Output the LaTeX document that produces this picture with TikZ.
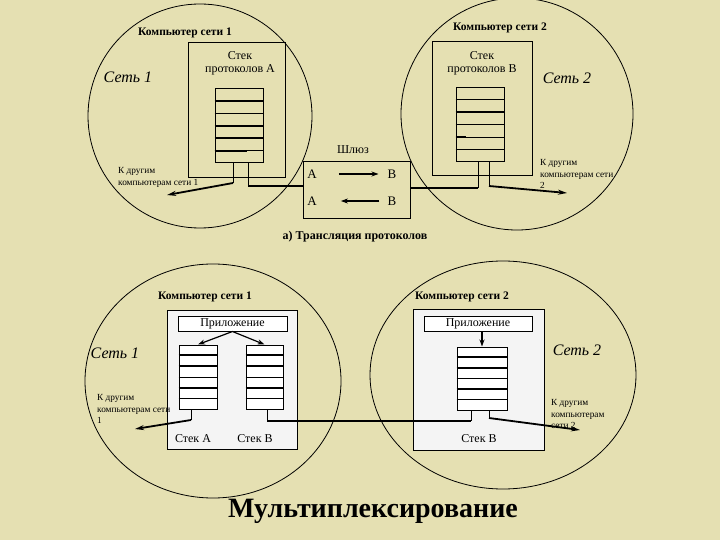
\documentclass[tikz,border=0pt]{standalone}
\usepackage{fontspec}
\setmainfont{Liberation Serif}
\usetikzlibrary{arrows.meta,calc,positioning}
\definecolor{paper}{RGB}{229,224,178}
\definecolor{panel}{RGB}{244,244,244}
\tikzset{
  net/.style={line width=0.8pt},
  compblk/.style={draw,rectangle,line width=1pt,inner sep=0pt},
  stackblk/.style={draw,rectangle,line width=1pt,fill=white,inner sep=0pt},
  appblk/.style={draw,rectangle,line width=1pt,fill=white,minimum height=15pt,inner sep=0pt,font=\fontsize{12}{12}\selectfont},
  wire/.style={line width=1pt},
  bus/.style={line width=2pt},
  arr/.style={-{Stealth[length=9pt,width=5pt]},line width=1.8pt},
  sarr/.style={-{Stealth[length=7pt,width=5pt]},line width=1.2pt},
  ttl/.style={font=\bfseries\fontsize{11.5}{13}\selectfont,inner sep=0pt},
  capt/.style={font=\bfseries\fontsize{12}{13}\selectfont,inner sep=0pt},
  netlbl/.style={font=\itshape\fontsize{16}{16}\selectfont,inner sep=0pt},
  small/.style={font=\fontsize{9.3}{11.5}\selectfont,align=left,inner sep=0pt},
  lbl/.style={font=\fontsize{12}{13}\selectfont,align=center,inner sep=0pt},
  glbl/.style={font=\fontsize{13}{13}\selectfont,inner sep=0pt}
}

\begin{document}
\begin{tikzpicture}[x=1pt,y=-1pt]
  \fill[paper] (0,0) rectangle (720,540);
  \useasboundingbox (0,0) rectangle (720,540);

  % a) protocol translation
  \draw[net] (200,116) ellipse [x radius=112pt,y radius=112pt];
  \draw[net] (517,114) ellipse [x radius=116pt,y radius=116pt];

  \node[compblk,minimum width=97pt,minimum height=135pt] (comp1) at (236.5,110.5) {};
  \node[ttl] (c1lbl) at (185,33) {Компьютер сети 1};
  \node[lbl] (prA) at (240,63) {Стек\\протоколов А};
  \node[stackblk,fill=none,minimum width=48pt,minimum height=74pt] (stA) at (239,126) {};
  \node[netlbl] (net1) at (128,77) {Сеть 1};
  \node[small,anchor=west] (oth1) at (118,177.5) {К другим\\компьютерам сети 1};

  \node[compblk,minimum width=100pt,minimum height=134pt] (comp2) at (482,109) {};
  \node[ttl] (c2lbl) at (500,28) {Компьютер сети 2};
  \node[lbl] (prB) at (482,63) {Стек\\протоколов В};
  \node[stackblk,fill=none,minimum width=48pt,minimum height=74pt] (stB) at (480,125) {};
  \node[netlbl] (net2) at (567,78) {Сеть 2};
  \node[small,anchor=west] (oth2) at (540,174) {К другим\\компьютерам сети\\2};

  \foreach \k/\w in {1/2,2/1,3/2,4/2,5/1}
    \draw[line width=\w pt] ($(stA.north west)!\k/6!(stA.south west)$) -- ($(stA.north east)!\k/6!(stA.south east)$);
  \draw[line width=2pt] ($(stA.north west)!5/6!(stA.south west)$) -- ++(32,0);
  \foreach \k/\w in {1/1,2/2,3/1,4/1,5/1}
    \draw[line width=\w pt] ($(stB.north west)!\k/6!(stB.south west)$) -- ($(stB.north east)!\k/6!(stB.south east)$);
  \draw[line width=2pt] ($(stB.north west)!4/6!(stB.south west)$) -- ++(10,0);

  \node[compblk,minimum width=107pt,minimum height=57pt] (gw) at (356.5,190.5) {};
  \node[lbl] (gwlbl) at (353,150) {Шлюз};
  \node[glbl] (ga1) at (312,174) {А};
  \node[glbl] (gb1) at (392,174) {В};
  \node[glbl] (ga2) at (312,201) {А};
  \node[glbl] (gb2) at (392,201) {В};
  \draw[sarr,shorten <=22pt,shorten >=9pt] (ga1) -- (gb1);
  \draw[sarr,shorten <=8pt,shorten >=24pt] (gb2) -- (ga2);
  \node[capt] (capA) at (355,237) {а) Трансляция протоколов};

  \coordinate (kA1) at (233,183);
  \coordinate (kA2) at (248,186);
  \coordinate (endA) at (167,195);
  \coordinate (kB1) at (478,188);
  \coordinate (kB2) at (489,186);
  \coordinate (endB) at (567,193);
  \draw[wire] (stA.south -| kA1) -- (kA1);
  \draw[arr] (kA1) -- (endA);
  \draw[wire] (stA.south -| kA2) -- (kA2);
  \draw[bus] (kA2) -- (kA2 -| gw.west);
  \draw[wire] (stB.south -| kB1) -- (kB1);
  \draw[bus] (kB1) -- (kB1 -| gw.east);
  \draw[wire] (stB.south -| kB2) -- (kB2);
  \draw[arr] (kB2) -- (endB);

  % multiplexing
  \draw[net] (213,381) ellipse [x radius=128pt,y radius=117pt];
  \draw[net] (503,375) ellipse [x radius=133pt,y radius=114pt];

  \node[compblk,fill=panel,minimum width=130pt,minimum height=139pt] (mcomp1) at (232,379.5) {};
  \node[ttl] (m1lbl) at (205,297) {Компьютер сети 1};
  \node[appblk,minimum width=109pt] (app1) at (232.5,323.5) {Приложение};
  \node[stackblk,minimum width=38pt,minimum height=64pt] (mstA) at (198,377) {};
  \node[stackblk,minimum width=37pt,minimum height=64pt] (mstB) at (264.5,377) {};
  \node[lbl] (sA) at (193,439) {Стек А};
  \node[lbl] (sB) at (255,439) {Стек В};
  \node[netlbl] (mnet1) at (115,353) {Сеть 1};
  \node[small,anchor=west] (moth1) at (97,409) {К другим\\компьютерам сети\\1};

  \node[compblk,fill=panel,minimum width=131pt,minimum height=141pt] (mcomp2) at (478.5,379.5) {};
  \node[ttl] (m2lbl) at (462,297) {Компьютер сети 2};
  \node[appblk,minimum width=108pt] (app2) at (478,323.5) {Приложение};
  \node[stackblk,minimum width=50pt,minimum height=63pt] (mstC) at (482,378.5) {};
  \node[lbl] (sC) at (479,439) {Стек В};
  \node[netlbl] (mnet2) at (577,350) {Сеть 2};
  \node[small,anchor=west] (moth2) at (551,414) {К другим\\компьютерам\\сети 2};

  \foreach \s in {mstA,mstB,mstC}
    \foreach \k/\w in {1/2,2/2,3/1,4/2,5/1}
      \draw[line width=\w pt] ($(\s.north west)!\k/6!(\s.south west)$) -- ($(\s.north east)!\k/6!(\s.south east)$);

  \draw[sarr] (app1.south) -- (mstA.north);
  \draw[sarr] (app1.south) -- (mstB.north);
  \draw[sarr] (app2.south -| mstC.north) -- (mstC.north);

  \coordinate (mkA) at (191,420);
  \coordinate (mendA) at (135,429);
  \coordinate (mkB) at (267,421);
  \coordinate (mkC1) at (471,421);
  \coordinate (mkC2) at (489,418);
  \coordinate (mendC) at (580,430);
  \draw[wire] (mstA.south -| mkA) -- (mkA);
  \draw[arr] (mkA) -- (mendA);
  \draw[wire] (mstB.south -| mkB) -- (mkB);
  \draw[wire] (mstC.south -| mkC1) -- (mkC1);
  \draw[bus] (mkB) -- (mkC1);
  \draw[wire] (mstC.south -| mkC2) -- (mkC2);
  \draw[arr] (mkC2) -- (mendC);

  \node[font=\bfseries\fontsize{28}{28}\selectfont,inner sep=0pt] (mux) at (373,511) {Мультиплексирование};
\end{tikzpicture}
\end{document}
